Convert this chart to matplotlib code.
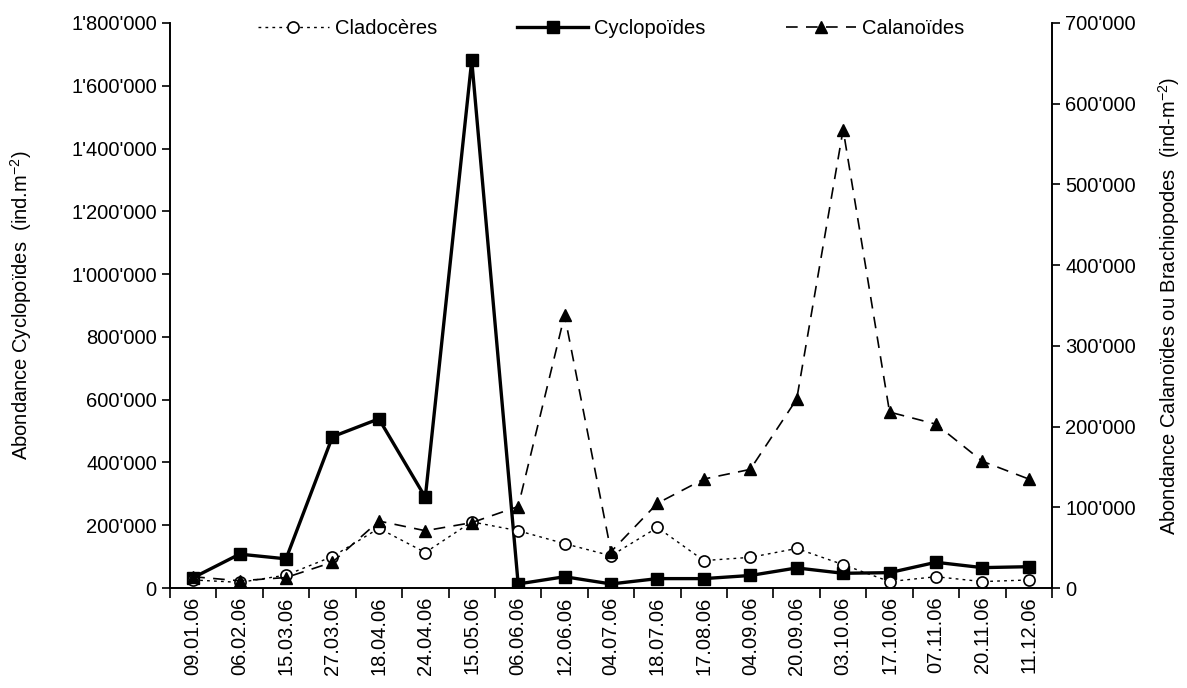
import numpy as np
import matplotlib
matplotlib.use("Agg")
import matplotlib.pyplot as plt
from matplotlib.ticker import FuncFormatter, FixedLocator, MultipleLocator

plt.rcParams['font.family'] = ['Liberation Sans', 'DejaVu Sans']
plt.rcParams['mathtext.fontset'] = 'custom'
plt.rcParams['mathtext.rm'] = 'Liberation Sans'
plt.rcParams['mathtext.it'] = 'Liberation Sans'

dates = ["09.01.06", "06.02.06", "15.03.06", "27.03.06", "18.04.06", "24.04.06",
         "15.05.06", "06.06.06", "12.06.06", "04.07.06", "18.07.06", "17.08.06",
         "04.09.06", "20.09.06", "03.10.06", "17.10.06", "07.11.06", "20.11.06",
         "11.12.06"]

# left axis
cyclopoides = [33000, 108000, 93000, 482000, 539000, 289000, 1681000, 13000, 36000,
               13000, 30000, 30000, 40000, 64000, 47000, 49000, 82000, 65000, 68000]

# right axis
cladoceres = [10000, 7000, 16000, 39000, 74000, 44000, 82000, 71000, 55000, 40000,
              75000, 34000, 38000, 49000, 29000, 8000, 14000, 8000, 10000]
calanoides = [14000, 9000, 13000, 32000, 83000, 71000, 81000, 101000, 338000, 45000,
              105000, 135000, 147000, 234000, 568000, 218000, 203000, 157000, 135000]

def apos(v, pos):
    return "{:,}".format(int(round(v))).replace(",", "'")

fig = plt.figure(figsize=(11.87, 6.88), dpi=100)
ax1 = fig.add_axes([0.1432, 0.1453, 0.7431, 0.8213])
ax2 = ax1.twinx()

x = np.arange(len(dates))
fs = 14.5

l1, = ax2.plot(x, cladoceres, color='black', lw=1.0, dashes=(2, 3),
               marker='o', ms=8, mfc='white', mec='black', mew=1.2, label='Cladocères')
l2, = ax1.plot(x, cyclopoides, color='black', lw=2.4, marker='s', ms=8.5,
               mfc='black', mec='black', label='Cyclopoïdes')
l3, = ax2.plot(x, calanoides, color='black', lw=1.2, dashes=(7, 5),
               marker='^', ms=8.5, mfc='black', mec='black', label='Calanoïdes')

ax1.set_xlim(-0.5, len(dates) - 0.5)
ax1.set_ylim(0, 1800000)
ax2.set_ylim(0, 700000)
ax1.yaxis.set_major_locator(MultipleLocator(200000))
ax2.yaxis.set_major_locator(MultipleLocator(100000))
ax1.yaxis.set_major_formatter(FuncFormatter(apos))
ax2.yaxis.set_major_formatter(FuncFormatter(apos))

# category labels centred, tick marks on the boundaries
ax1.set_xticks(x)
ax1.set_xticklabels(dates, rotation=90, fontsize=fs)
ax1.xaxis.set_minor_locator(FixedLocator(np.arange(-0.5, len(dates), 1.0)))
ax1.tick_params(axis='x', which='major', length=0, pad=6)
ax1.tick_params(axis='x', which='minor', length=7, width=1.2, direction='out')

for ax in (ax1, ax2):
    ax.spines['top'].set_visible(False)
    for s in ('left', 'right', 'bottom'):
        ax.spines[s].set_linewidth(1.2)
    ax.tick_params(axis='y', length=6, width=1.2, direction='out', labelsize=fs)

ax1.set_ylabel("Abondance Cyclopoïdes  (ind.m$^{-2}$)", fontsize=fs)
ax2.set_ylabel("Abondance Calanoïdes ou Brachiopodes  (ind-m$^{-2}$)", fontsize=fs)
ax1.yaxis.set_label_coords(-0.154, 0.5)
ax2.yaxis.set_label_coords(1.118, 0.5)

fig.legend(handles=[l1, l2, l3], loc='center', bbox_to_anchor=(0.515, 0.958),
           ncol=3, frameon=False, fontsize=fs, handlelength=3.5, columnspacing=4.0,
           handletextpad=0.3)

fig.savefig("out.png", dpi=100)
